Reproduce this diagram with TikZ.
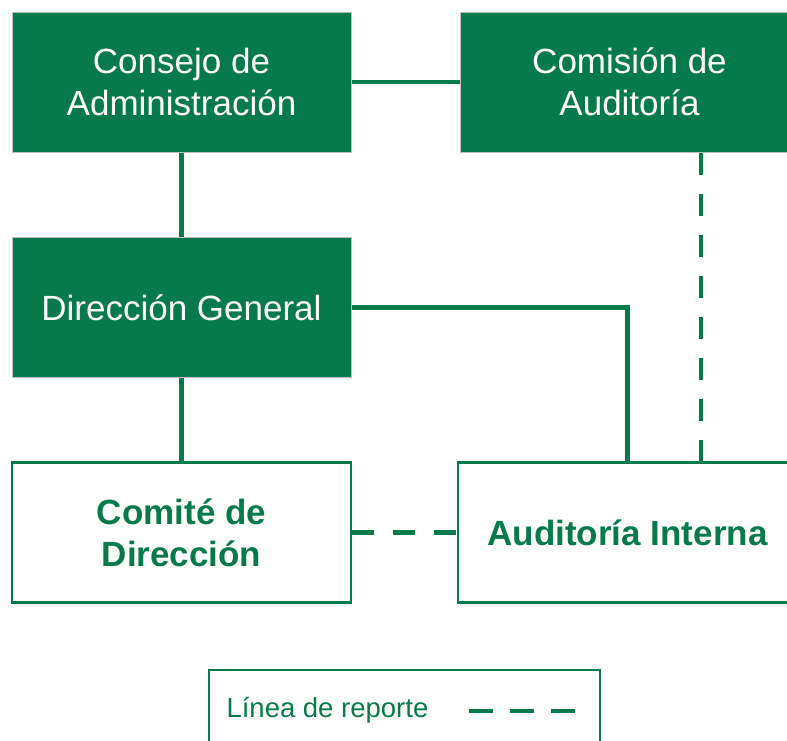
\documentclass[tikz,border=0pt]{standalone}
\usepackage{fontspec}
\setmainfont{Liberation Sans}
\definecolor{orggreen}{RGB}{6,122,74}
\begin{document}
\begin{tikzpicture}[x=1pt, y=-1pt,
	greenbox/.style={rectangle, draw=black!25, line width=1pt, fill=orggreen, text=white, minimum width=339pt, minimum height=140pt, align=center, font=\fontsize{35}{42}\selectfont},
	whitebox/.style={rectangle, draw=orggreen, line width=2.5pt, fill=white, text=orggreen, minimum width=339pt, minimum height=140pt, align=center, font=\fontsize{35}{42}\selectfont\bfseries},
	link/.style={draw=orggreen, line width=4.5pt},
	report/.style={link, dash pattern=on 22pt off 19pt}]
	\useasboundingbox (0, 0) rectangle (787, 740);
	\clip (0, 0) rectangle (787, 740);
	% Top row
	\node [greenbox] (consejo) at (181.5, 82) {Consejo de\\Administración};
	\node [greenbox] (comision) at (629.5, 82) {Comisión de\\Auditoría};
	% Middle row
	\node [greenbox] (direccion) at (181.5, 307.5) {Dirección General};
	% Bottom row
	\node [whitebox] (comite) at (181.5, 532.5) {Comité de\\Dirección};
	\node [whitebox] (auditoria) at (627.5, 532.5) {Auditoría Interna};
	% Legend
	\node [rectangle, draw=orggreen, line width=2.5pt, minimum width=391pt, minimum height=90pt] (legend) at (404.5, 715) {};
	\node [anchor=base west, text=orggreen, font=\fontsize{27.5}{33}\selectfont] (legtext) at (223, 717) {Línea de reporte};
	\coordinate (legA) at (469, 711);
	\coordinate (legB) at (575, 711);
	% Solid lines
	\draw [link] (consejo) -- (comision);
	\draw [link] (consejo) -- (direccion);
	\draw [link] (direccion) -- (comite);
	\draw [link] (direccion.east) -| (auditoria.north);
	% Reporting lines
	\draw [report] ([xshift=71.5pt]comision.south) -- ([xshift=71.5pt]comision.south |- auditoria.north);
	\draw [report] (comite) -- (auditoria);
	\draw [report, dash pattern=on 24pt off 17pt] (legA) -- (legB);
\end{tikzpicture}
\end{document}
